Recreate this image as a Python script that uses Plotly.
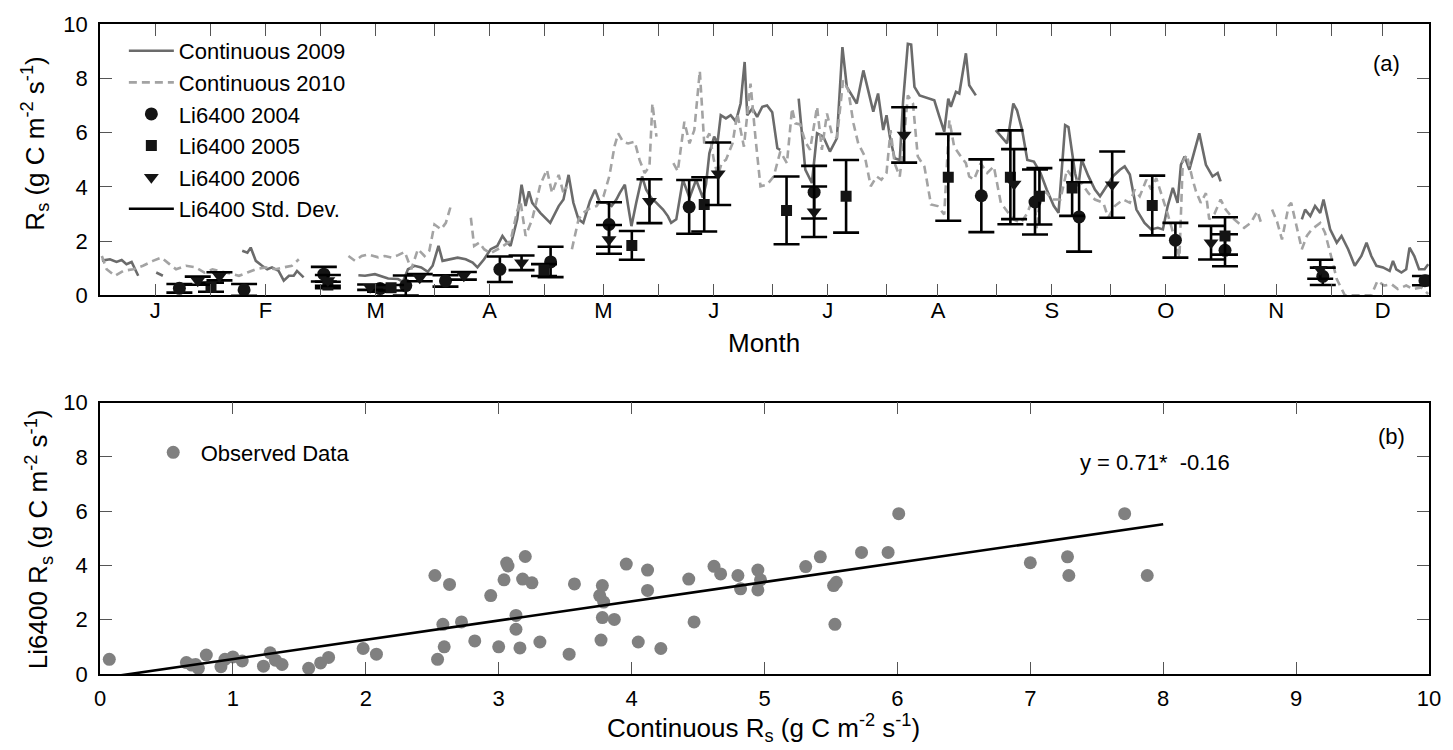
import plotly.graph_objects as go

# ---------------- Panel (a) data ----------------
# Continuous 2009 (day of year, Rs); None marks gaps
c09_day = [0.5, 2.7, 4.5, 5.9, 7.2, 8.6, 10.4, None, 15.3, 17.1, None,
           38.7, 40.1, 41.0, 42.4, 44.1, 45.5, 46.8, 48.6, 50.0, 51.4, 52.7, 53.6, 55.4, None,
           70.3, 72.1, 74.8, 76.5, 78.4, 81.1, 82.4, 83.8, 85.6, 87.4,
           89.2, 90.5, 92.1, 93.2, 95.1, 97.3, 99.5, 101.4, 102.7, 104.5,
           106.3, 108.1, 109.5, 110.8, 111.7, 113.5, 114.7, 115.8, 116.7, 117.6,
           119.8, 122.5, 124.8, 126.1, 127.5, 128.8, 130.2, 131.5, 133.3, 134.7,
           136.0, 137.8, 139.2, 140.5, 141.4, 142.8, 143.7, 144.6, 145.9, 147.5,
           148.6, 150.0, 151.4, 153.2, 154.5, 155.4, 156.8, 158.6, 160.4, 162.2,
           164.0, 164.9, 165.8, 167.1, 168.0, 168.9, 170.3, 171.6, 173.0, 174.3,
           175.4, 176.1, 177.5, 178.8, 180.2, 181.5, 182.9, 184.3, 185.1, None,
           190.1, 191.9, 193.7, 195.1, 196.8, 198.6, 200.5, 202.0, 203.2, 205.9,
           207.7, 209.0, 210.4, 211.7, 213.1, 214.0, 214.9, 216.2, 217.6, 218.5,
           219.8, 220.7, 221.6, 223.0, 224.3, 227.0, 228.4, 229.7, 230.8, 231.5,
           232.9, 233.8, 235.6, 236.5, 238.3, None,
           243.7, 245.5, 246.8, 248.5, 249.5, 250.9, 252.3, 254.1, 255.9, 257.6,
           259.5, 260.8, 262.6, 263.5, 265.3, 266.2, 267.1, 268.9, 270.7, 272.1,
           273.9, 275.7, 277.5, 278.8, 280.2, 282.0, 284.2, 286.0, 287.8, 289.2,
           290.5, 291.9, 293.2, 294.1, 295.1, 296.4, 299.1, 300.9, 302.7, 304.1,
           304.9, None,
           327.0, 327.9, 329.3, 330.6, 332.0, 332.9, 334.7, 336.5, 337.8, 339.6,
           341.4, 343.2, 344.6, 345.9, 347.3, 349.1, 350.9, 351.8, 352.7, 354.1,
           355.4, 356.3, 357.6, 358.9, 360.4, 361.4]
c09_val = [1.28, 1.33, 1.23, 1.30, 1.15, 1.23, 0.72, None, 0.84, 0.72, None,
           1.64, 1.57, 1.76, 1.27, 1.09, 0.96, 1.03, 0.90, 0.54, 0.72, 0.72, 0.90, 0.66, None,
           0.74, 0.72, 0.78, 0.70, 0.62, 0.60, 0.50, 0.96, 1.09, 1.03,
           0.87, 1.09, 1.82, 1.27, 1.33, 1.39, 1.33, 1.21, 1.03, 1.33,
           1.70, 1.82, 2.19, 1.94, 1.82, 2.80, 4.08, 3.29, 3.83, 3.41,
           3.04, 2.67, 3.29, 3.53, 4.44, 3.41, 2.80, 2.67, 3.47, 3.89,
           3.41, 3.41, 3.29, 3.53, 3.77, 4.08, 3.29, 2.55, 3.41, 4.38,
           3.89, 3.59, 3.41, 3.16, 2.92, 2.67, 2.80, 4.26, 3.59, 4.26,
           3.60, 4.10, 5.24, 5.85, 5.60, 6.64, 6.52, 6.64, 6.40, 7.07,
           8.60, 6.64, 6.89, 6.58, 6.95, 7.00, 6.75, 5.42, 5.36, None,
           7.25, 4.63, 4.14, 5.97, 5.85, 5.30, 5.79, 9.15, 7.68, 7.07,
           8.29, 7.56, 6.77, 7.44, 6.09, 6.64, 5.85, 5.05, 4.99, 7.13,
           9.27, 9.24, 7.68, 7.37, 7.32, 7.19, 6.58, 6.03, 7.25, 6.95,
           7.50, 7.44, 8.92, 7.74, 7.37, None,
           6.09, 5.79, 5.60, 7.07, 6.82, 6.09, 4.99, 4.93, 4.51, 3.89,
           3.30, 3.04, 6.27, 6.20, 4.50, 4.02, 5.00, 4.40, 3.90, 3.65,
           4.02, 4.40, 4.63, 4.75, 4.45, 3.16, 2.67, 2.43, 2.49, 2.43,
           3.29, 3.96, 3.41, 4.81, 5.12, 4.63, 5.97, 4.81, 4.38, 4.51,
           4.20, None,
           2.80, 3.16, 2.92, 3.29, 3.04, 3.53, 2.43, 1.94, 2.19, 1.70,
           1.09, 1.45, 1.94, 1.45, 1.09, 1.03, 0.90, 1.27, 0.96, 0.84,
           0.96, 1.76, 1.45, 0.96, 0.96, 1.15]

# Continuous 2010
c10_day = [0.5, 1.8, 4.1, 6.3, 9.0, 11.7, 14.4, 16.7, 18.9, 20.7,
           23.4, 26.1, 28.4, 30.6, 32.4, 35.1, 37.8, 40.1, 42.4, 45.1,
           47.8, 50.0, 52.2, 54.1, None,
           67.6, 69.4, 71.2, 73.0, 75.7, 77.5, 79.3, 81.1, 82.9, 84.7,
           86.5, 88.3, 89.6, 91.0, 92.8, 94.1, 95.7, None,
           100.9, 101.8, 103.2, 104.5, 106.2, 108.9, 111.7, 113.5, 114.4, 115.8,
           117.6, 119.8, 121.6, 123.0, 124.8, 126.1, 127.0, None,
           128.4, 130.2, 131.5, 133.2, 135.1, 137.0, 138.6, 140.0, 141.0, 142.3,
           143.7, 145.5, 146.8, 148.2, 149.5, 150.3, 151.4, None,
           156.0, 157.2, 159.0, 160.4, 161.7, 163.2, 164.4, 165.8, 167.0, 168.1,
           169.2, 170.3, 172.1, 173.4, 175.2, 177.0, 178.4, 179.7, 181.5, 183.3,
           185.1, 186.9, 188.3, 189.2, 190.5, 191.9, 193.2, 195.1, 196.4, 197.8,
           199.1, 200.5, 202.2, 203.6, 205.0, 206.3, 208.1, 209.7, 211.3, 212.6,
           214.0, 215.1, 216.2, 217.6, 218.6, 219.8, 221.2, 222.5, 224.3, 226.1,
           227.9, 229.7, 231.1, 232.4, 234.2, 235.6, 236.5, 237.8, 239.6, 241.4,
           243.2, 245.1, 246.8, 248.6, 250.5, 252.2, 254.1, 254.9, 255.9, 257.6,
           259.0, 261.3, 263.1, 264.9, 267.1, 268.9, 270.7, 273.0, 274.3, 276.1,
           278.4, 280.2, 281.5, 282.9, 284.7, 286.0, 287.4, 288.7, 290.5, 292.2,
           293.7, 294.6, 295.7, 297.3, 298.2, 299.5, 300.9, 301.8, 303.2, 304.9,
           306.3, 308.1, 309.9, 311.3, 313.1, 314.9, 316.2, None,
           318.9, 320.3, 321.6, 323.4, 324.1, 325.7, 327.0, 328.4, 329.7, 332.0,
           333.3, 334.7, 336.5, 338.7, 345.9, 347.6, 349.4, 351.4, 353.1, 355.4,
           357.2, 359.5, 361.4]
c10_val = [1.45, 0.96, 0.72, 0.90, 0.96, 1.09, 1.27, 1.39, 1.15, 0.96,
           1.09, 1.03, 0.84, 0.96, 0.90, 0.82, 0.72, 0.84, 0.96, 1.03,
           0.96, 1.03, 1.09, 1.33, None,
           1.45, 1.27, 1.45, 1.51, 1.40, 1.45, 1.39, 1.48, 1.60, 0.96,
           1.70, 1.45, 1.64, 2.61, 2.43, 2.67, 3.41, None,
           2.86, 1.82, 1.94, 1.70, 1.55, 1.75, 2.00, 3.10, 3.47, 2.19,
           2.80, 4.08, 4.63, 3.77, 4.44, 3.77, 4.00, None,
           1.70, 2.80, 3.04, 3.20, 3.29, 3.65, 4.40, 5.50, 5.97, 5.66,
           5.60, 5.66, 4.99, 4.51, 4.75, 7.07, 5.85, None,
           4.87, 4.57, 6.40, 5.60, 6.09, 8.27, 5.60, 5.97, 5.00, 4.40,
           4.90, 4.99, 5.60, 6.70, 5.48, 7.80, 5.73, 4.02, 4.08, 4.38,
           5.30, 4.87, 6.89, 6.34, 6.30, 5.66, 5.36, 6.95, 5.36, 6.70,
           5.97, 5.80, 7.92, 7.56, 6.34, 5.60, 5.12, 4.02, 4.38, 4.26,
           4.51, 6.09, 4.87, 4.38, 5.50, 7.37, 7.07, 5.12, 4.75, 3.35,
           3.29, 2.98, 6.46, 5.48, 5.12, 4.87, 4.38, 4.26, 4.87, 4.51,
           4.75, 3.41, 3.10, 2.80, 2.67, 3.00, 3.65, 2.43, 3.89, 3.77,
           3.53, 3.53, 4.63, 4.30, 4.14, 3.77, 3.53, 3.41, 2.86, 3.29,
           3.53, 3.41, 3.89, 3.65, 4.26, 3.90, 4.32, 3.77, 3.00, 2.20,
           1.39, 4.93, 5.18, 4.26, 3.83, 3.41, 3.77, 2.80, 3.00, 3.53,
           3.16, 2.86, 2.67, 2.49, 2.67, 3.10, 2.55, None,
           3.16, 2.70, 2.06, 3.29, 3.41, 2.50, 1.70, 2.20, 2.43, 2.67,
           2.31, 1.58, 0.60, 0.00, 0.00, 0.54, 0.36, 0.41, 0.23, 0.36,
           0.23, 0.29, 0.05]

# Li6400 chamber measurements (day, mean, std. dev.)
li04_day = [21.6, 39.2, 60.9, 76.2, 83.2, 94.0, 108.8, 122.6, 138.5, 160.3,
            194.3, 239.8, 254.4, 266.4, 292.6, 306.1, 332.7, 360.5]
li04_val = [0.26, 0.20, 0.78, 0.25, 0.36, 0.53, 0.96, 1.23, 2.61, 3.26,
            3.80, 3.67, 3.44, 2.89, 2.03, 1.66, 0.70, 0.54]
li04_sd = [0.16, 0.22, 0.27, 0.12, 0.37, 0.21, 0.47, 0.56, 0.82, 0.99,
           0.97, 1.34, 1.20, 1.28, 0.64, 0.59, 0.32, 0.17]

li05_day = [30.2, 62.0, 79.2, 120.8, 144.7, 164.4, 186.8, 203.0, 230.8, 247.7,
            255.6, 264.5, 286.3, 306.1]
li05_val = [0.30, 0.38, 0.28, 0.93, 1.84, 3.35, 3.13, 3.65, 4.35, 4.35,
            3.65, 3.96, 3.31, 2.19]
li05_sd = [0.17, 0.12, 0.10, 0.22, 0.53, 1.00, 1.25, 1.34, 1.60, 1.73,
           1.04, 1.03, 1.10, 0.69]

li06_day = [26.6, 32.5, 62.0, 73.5, 87.0, 99.0, 114.7, 138.5, 149.5, 168.2,
            194.3, 218.8, 248.7, 275.4, 302.3, 332.0]
li06_val = [0.54, 0.70, 0.55, 0.30, 0.65, 0.72, 1.20, 2.06, 3.47, 4.48,
            3.08, 5.91, 4.10, 4.08, 1.94, 0.96]
li06_sd = [0.15, 0.15, 0.20, 0.10, 0.13, 0.14, 0.27, 0.53, 0.81, 1.15,
           0.93, 1.02, 1.29, 1.22, 0.62, 0.35]

# month axis
month_tick_days = [15, 30, 45, 60, 75, 91, 106, 121, 137, 152, 167, 183, 198,
                   214, 228, 244, 259, 275, 290, 306, 320, 335, 349]
month_tick_text = ["J", "", "F", "", "M", "", "A", "", "M", "", "J", "", "J",
                   "", "A", "", "S", "", "O", "", "N", "", "D"]

# ---------------- Panel (b) data ----------------
obs_x = [0.07, 0.65, 0.69, 0.72, 0.74, 0.80, 0.91, 0.94, 1.00, 1.07,
         1.23, 1.28, 1.32, 1.37, 1.57, 1.66, 1.72, 1.98, 2.08, 2.52,
         2.54, 2.58, 2.59, 2.63, 2.72, 2.82, 2.94, 3.00, 3.04, 3.06,
         3.07, 3.13, 3.13, 3.16, 3.18, 3.20, 3.25, 3.31, 3.53, 3.57,
         3.76, 3.78, 3.79, 3.78, 3.77, 3.87, 3.96, 4.05, 4.12, 4.12,
         4.22, 4.43, 4.47, 4.62, 4.67, 4.80, 4.82, 4.95, 4.97, 4.95,
         5.31, 5.42, 5.52, 5.54, 5.53, 5.73, 5.93, 6.01, 7.00, 7.28,
         7.29, 7.71, 7.88]
obs_y = [0.54, 0.42, 0.33, 0.35, 0.21, 0.70, 0.27, 0.54, 0.63, 0.48,
         0.29, 0.78, 0.51, 0.35, 0.21, 0.41, 0.61, 0.94, 0.73, 3.63,
         0.54, 1.83, 1.00, 3.30, 1.92, 1.22, 2.89, 1.00, 3.47, 4.09,
         3.98, 2.16, 1.65, 0.96, 3.50, 4.33, 3.36, 1.18, 0.73, 3.32,
         2.89, 3.26, 2.65, 2.08, 1.25, 2.01, 4.05, 1.18, 3.83, 3.08,
         0.94, 3.50, 1.92, 3.97, 3.69, 3.63, 3.14, 3.83, 3.47, 3.10,
         3.96, 4.32, 3.26, 3.38, 1.83, 4.48, 4.48, 5.91, 4.10, 4.32,
         3.63, 5.91, 3.63]
fit_slope = 0.71
fit_intercept = -0.16
fit_x = [0, 8]

assert len(c09_day) == len(c09_val)
assert len(c10_day) == len(c10_val)
assert len(obs_x) == len(obs_y)

FONT = "Liberation Sans, Arial, Helvetica, sans-serif"
W, H = 1453, 750
ML, MR, MT, MB = 100, 16, 20, 76
PW, PH = W - ML - MR, H - MT - MB


def px2x(px):
    return (px - ML) / PW


def py2y(py):
    return (H - MB - py) / PH


fig = go.Figure()

fig.add_trace(go.Scatter(x=c09_day, y=c09_val, mode="lines", name="Continuous 2009",
                         line=dict(color="#6b6b6b", width=2.6), connectgaps=False,
                         xaxis="x", yaxis="y", legend="legend"))
fig.add_trace(go.Scatter(x=c10_day, y=c10_val, mode="lines", name="Continuous 2010",
                         line=dict(color="#a3a3a3", width=2.6, dash="8px,5px"), connectgaps=False,
                         xaxis="x", yaxis="y", legend="legend"))

err_style = dict(type="data", color="black", thickness=2.6, width=13, visible=True)
for d, v, s, sym, sz, nm in [(li04_day, li04_val, li04_sd, "circle", 13, "Li6400 2004"),
                             (li05_day, li05_val, li05_sd, "square", 11, "Li6400 2005"),
                             (li06_day, li06_val, li06_sd, "triangle-down", 13, "Li6400 2006")]:
    fig.add_trace(go.Scatter(x=d, y=v, mode="markers", name=nm,
                             marker=dict(symbol=sym, size=sz, color="#141414"),
                             error_y=dict(array=s, **err_style),
                             xaxis="x", yaxis="y", legend="legend"))

fig.add_trace(go.Scatter(x=[None], y=[None], mode="lines", name="Li6400 Std. Dev.",
                         line=dict(color="black", width=2.6),
                         xaxis="x", yaxis="y", legend="legend"))

fit_y = [fit_slope * v + fit_intercept for v in fit_x]
fig.add_trace(go.Scatter(x=obs_x, y=obs_y, mode="markers", name="Observed Data",
                         marker=dict(color="#808080", size=13),
                         xaxis="x2", yaxis="y2", legend="legend2"))
fig.add_trace(go.Scatter(x=fit_x, y=fit_y, mode="lines", showlegend=False,
                         line=dict(color="black", width=2.6),
                         xaxis="x2", yaxis="y2"))

axis_common = dict(showline=True, linecolor="black", linewidth=1.5, mirror="ticks",
                   ticks="inside", ticklen=12, tickwidth=1.2, tickcolor="#555555",
                   showgrid=False, zeroline=False,
                   tickfont=dict(family=FONT, size=22, color="black"))

top_bottom = py2y(293)
bot_top = py2y(401)

fig.update_layout(
    width=W, height=H,
    margin=dict(l=ML, r=MR, t=MT, b=MB),
    paper_bgcolor="white", plot_bgcolor="white",
    font=dict(family=FONT, size=22, color="black"),
    xaxis=dict(domain=[0, 1], range=[0, 361.6], anchor="y",
               tickvals=month_tick_days, ticktext=month_tick_text,
               ticklabelstandoff=-5, **axis_common),
    yaxis=dict(domain=[top_bottom, 1], range=[0, 10], anchor="x",
               tickvals=[0, 2, 4, 6, 8, 10], ticklabelstandoff=6, **axis_common),
    xaxis2=dict(domain=[0, 1], range=[0, 10], anchor="y2",
                tickvals=list(range(0, 11)), ticklabelstandoff=4, **axis_common),
    yaxis2=dict(domain=[0, bot_top], range=[0, 10], anchor="x2",
                tickvals=[0, 2, 4, 6, 8, 10], ticklabelstandoff=6, **axis_common),
    legend=dict(x=px2x(124), y=py2y(26), xanchor="left", yanchor="top",
                bgcolor="rgba(0,0,0,0)", borderwidth=0,
                font=dict(family=FONT, size=22, color="black"), itemwidth=45),
    legend2=dict(x=px2x(146), y=py2y(430), xanchor="left", yanchor="top",
                 bgcolor="rgba(0,0,0,0)", borderwidth=0,
                 font=dict(family=FONT, size=22, color="black"), itemwidth=45),
    showlegend=True,
)

ctr = dict(xref="paper", yref="paper", showarrow=False, xanchor="center", yanchor="middle")
ann = [
    dict(text="R<sub>s</sub> (g C m<sup>-2</sup> s<sup>-1</sup>)", x=px2x(35), y=py2y(140),
         textangle=-90, font=dict(family=FONT, size=26), **ctr),
    dict(text="Li6400 R<sub>s</sub> (g C m<sup>-2</sup> s<sup>-1</sup>)", x=px2x(38), y=py2y(538),
         textangle=-90, font=dict(family=FONT, size=26), **ctr),
    dict(text="Month", x=px2x(768), y=py2y(341), font=dict(family=FONT, size=26), **ctr),
    dict(text="Continuous R<sub>s</sub> (g C m<sup>-2</sup> s<sup>-1</sup>)", x=px2x(767), y=py2y(728),
         font=dict(family=FONT, size=26), **ctr),
    dict(text="(a)", x=px2x(1394), y=py2y(60), font=dict(family=FONT, size=22), **ctr),
    dict(text="(b)", x=px2x(1399), y=py2y(435), font=dict(family=FONT, size=22), **ctr),
    dict(text="y = %.2f*  %.2f" % (fit_slope, fit_intercept), x=px2x(1161), y=py2y(461),
         font=dict(family=FONT, size=22), **ctr),
]
fig.update_layout(annotations=ann)

fig.write_html("out.html")
